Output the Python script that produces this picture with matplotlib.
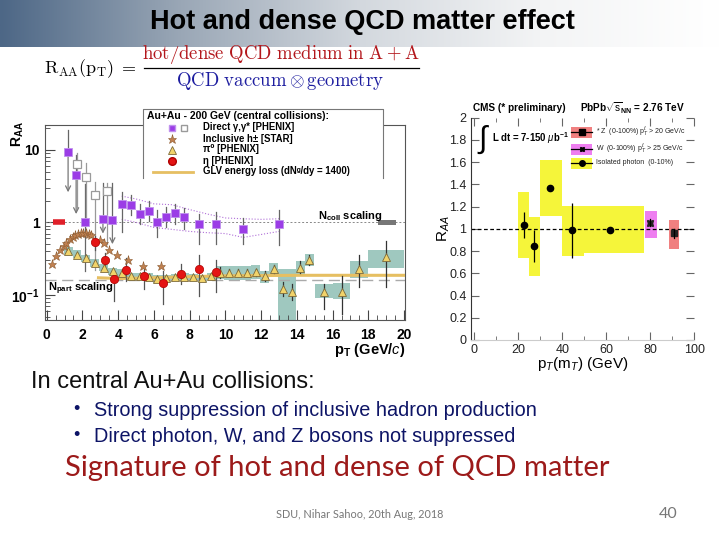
import numpy as np
import matplotlib.pyplot as plt
from matplotlib.patches import Rectangle
from matplotlib.colors import LinearSegmentedColormap

plt.rcParams['font.family'] = ['Liberation Sans', 'DejaVu Sans']
plt.rcParams['mathtext.fontset'] = 'custom'
plt.rcParams['mathtext.rm'] = 'Liberation Sans'
plt.rcParams['mathtext.it'] = 'Liberation Sans:italic'
plt.rcParams['mathtext.bf'] = 'Liberation Sans:bold'

# ---- PHENIX Au+Au 200 GeV (left panel) ----
gam_x = [1.2, 1.65, 2.15, 3.15, 3.68, 4.2, 4.7, 5.2, 5.7, 6.2, 6.7, 7.2, 7.7, 8.5, 9.5, 11.0, 13.0]
gam_y = [9.3, 4.5, 1.0, 1.1, 1.08, 1.78, 1.72, 1.3, 1.44, 1.0, 1.2, 1.35, 1.2, 0.94, 0.95, 0.82, 0.95]
gam_hi = [19, 8.5, 3.4, 3.5, 3.5, 2.6, 2.4, 1.8, 2.0, 1.5, 1.65, 1.8, 1.6, 1.3, 1.4, 1.15, 1.5]
gam_lo = [2.6, 1.3, 0.21, 0.7, 0.5, 0.73, 1.25, 0.95, 1.05, 0.62, 0.85, 0.95, 0.82, 0.5, 0.5, 0.5, 0.48]
gam_arrow = [1, 1, 0, 1, 1, 0, 0, 0, 0, 0, 0, 0, 0, 0, 0, 0, 0]

gam_open_x = [1.72, 2.2, 2.72, 3.4]
gam_open_y = [6.3, 4.2, 2.4, 2.7]
gam_open_hi = [9.0, 6.5, 3.6, 3.5]
gam_open_lo = [1.6, 0.9, 0.22, 0.5]

env_x = [4.2, 5.0, 6.0, 7.0, 8.0, 9.0, 10.0, 11.0, 12.0, 13.0]
env_hi = [2.3, 2.1, 1.8, 1.75, 1.5, 1.3, 1.15, 1.12, 1.1, 1.12]
env_lo = [1.1, 1.0, 0.85, 0.8, 0.75, 0.72, 0.7, 0.62, 0.68, 0.75]

star_x = [0.3, 0.55, 0.75, 0.95, 1.1, 1.3, 1.45, 1.6, 1.75, 1.9, 2.05, 2.2, 2.35,
          2.5, 3.0, 3.2, 3.5, 3.95, 4.55, 5.4, 6.4]
star_y = [0.27, 0.345, 0.41, 0.47, 0.52, 0.58, 0.63, 0.66, 0.69, 0.71, 0.72, 0.71, 0.70,
          0.67, 0.57, 0.52, 0.42, 0.36, 0.30, 0.25, 0.25]

pi0_x = [1.2, 1.7, 2.2, 2.7, 3.2, 3.7, 4.2, 4.7, 5.2, 5.7, 6.2, 6.7, 7.2, 7.7, 8.2, 8.7,
         9.2, 9.7, 10.2, 10.7, 11.2, 11.7, 12.2, 12.7, 13.2, 13.7, 14.2, 14.7, 15.5, 16.5,
         17.5, 19.0]
pi0_y = [0.40, 0.36, 0.32, 0.275, 0.235, 0.21, 0.20, 0.18, 0.18, 0.178, 0.167, 0.17,
         0.175, 0.178, 0.175, 0.17, 0.18, 0.20, 0.20, 0.20, 0.20, 0.204, 0.18, 0.227,
         0.121, 0.109, 0.235, 0.30, 0.108, 0.111, 0.227, 0.33]
pi0_err_lo = [0.38, 0.34, 0.30, 0.26, 0.22, 0.2, 0.19, 0.17, 0.17, 0.168, 0.157, 0.16,
              0.165, 0.167, 0.164, 0.158, 0.165, 0.17, 0.18, 0.18, 0.18, 0.18, 0.155, 0.2,
              0.095, 0.085, 0.2, 0.26, 0.063, 0.054, 0.13, 0.13]
pi0_err_hi = [0.42, 0.38, 0.34, 0.29, 0.25, 0.22, 0.21, 0.19, 0.19, 0.188, 0.177, 0.18,
              0.185, 0.19, 0.187, 0.183, 0.196, 0.24, 0.23, 0.23, 0.225, 0.23, 0.21, 0.26,
              0.15, 0.14, 0.29, 0.36, 0.14, 0.18, 0.36, 0.55]
pi0_sys_lo = [0.35, 0.32, 0.285, 0.245, 0.21, 0.185, 0.178, 0.158, 0.16, 0.158, 0.148, 0.15,
              0.155, 0.158, 0.155, 0.15, 0.16, 0.165, 0.16, 0.16, 0.16, 0.165, 0.145, 0.19,
              0.03, 0.03, 0.19, 0.25, 0.091, 0.087, 0.172, 0.236]
pi0_sys_hi = [0.45, 0.41, 0.36, 0.31, 0.265, 0.235, 0.225, 0.2, 0.2, 0.2, 0.188, 0.19,
              0.196, 0.2, 0.196, 0.19, 0.2, 0.25, 0.25, 0.25, 0.25, 0.255, 0.215, 0.275,
              0.23, 0.23, 0.29, 0.37, 0.139, 0.147, 0.297, 0.42]
pi0_box_w = [0.5] * 28 + [1.0, 1.0, 1.0, 2.0]

eta_x = [2.7, 3.25, 3.75, 4.45, 5.45, 6.5, 7.5, 8.5, 9.5]
eta_y = [0.53, 0.30, 0.165, 0.22, 0.18, 0.145, 0.195, 0.23, 0.205]
eta_lo = [0.42, 0.24, 0.082, 0.155, 0.12, 0.074, 0.14, 0.096, 0.11]
eta_hi = [0.65, 0.38, 0.19, 0.32, 0.25, 0.21, 0.27, 0.36, 0.3]

glv_x = [2.9, 4.0, 5.0, 6.0, 8.0, 10.0, 14.0, 20.0]
glv_y = [0.172, 0.168, 0.17, 0.172, 0.178, 0.183, 0.186, 0.186]

npart_level = 0.158

# ---- CMS PbPb 2.76 TeV (right panel) ----
pho_x = [22.4, 27.3, 34.5, 44.4, 61.8]
pho_y = [1.035, 0.846, 1.37, 0.987, 0.99]
pho_err = [0.12, 0.145, 0.0, 0.245, 0.0]
pho_box_x0 = [20, 25, 30, 40, 50]
pho_box_x1 = [25, 30, 40, 50, 77]
pho_box_lo = [0.74, 0.58, 1.12, 0.76, 0.78]
pho_box_hi = [1.33, 1.11, 1.62, 1.21, 1.21]

w_x, w_y, w_box = 80.0, 1.055, (77.5, 83.0, 0.92, 1.16)
z_x, z_y, z_box = 90.9, 0.96, (88.3, 93.2, 0.82, 1.08)

fig = plt.figure(figsize=(7.2, 5.4), dpi=100)

# slide background, pixel coordinates
bg = fig.add_axes([0, 0, 1, 1], zorder=-5)
grad = np.linspace(0, 1, 256)[None, :]
band = LinearSegmentedColormap.from_list('band', ['#4d6786', '#9aa7b6', '#d3d8de', '#f3f4f5', '#ffffff'])
bg.imshow(grad, cmap=band, aspect='auto', extent=(0, 720, 47, 0))
bg.set_xlim(0, 720)
bg.set_ylim(540, 0)
bg.axis('off')
T = bg.transData

bg.text(362, 22, 'Hot and dense QCD matter effect', ha='center', va='center',
        fontsize=19.5, fontweight='bold', color='black')

# R_AA formula
bg.text(44, 69, r'$\mathrm{R_{AA}(p_T)}\ =$', fontsize=13, va='center', ha='left',
        math_fontfamily='cm')
bg.text(281, 55, r'$\mathrm{hot/dense\ QCD\ medium\ in\ A+A}$', fontsize=13.5,
        ha='center', va='center', color='#b3171c', math_fontfamily='cm')
bg.text(280, 81, r'$\mathrm{QCD\ vaccum}\otimes\mathrm{geometry}$', fontsize=13.5,
        ha='center', va='center', color='#1e1ea0', math_fontfamily='cm')
bg.plot([144, 419], [68, 68], color='black', lw=0.9)

# bottom text
bg.text(31, 382, 'In central Au+Au collisions:', fontsize=17, va='center', color='#111111')
bg.text(73, 410, '\u2022', fontsize=13, va='center', color='#0d1466')
bg.text(94, 410, 'Strong suppression of inclusive hadron production', fontsize=14.3,
        va='center', color='#0d1466')
bg.text(73, 436, '\u2022', fontsize=13, va='center', color='#0d1466')
bg.text(94, 436, 'Direct photon, W, and Z bosons not suppressed', fontsize=14.3,
        va='center', color='#0d1466')
bg.text(65, 468, 'Signature of hot and dense of QCD matter', fontsize=21,
        va='center', color='#9c1a1a', family=['Lato', 'DejaVu Sans'])
bg.text(360, 515, 'SDU, Nihar Sahoo, 20th Aug, 2018', fontsize=7.8, ha='center',
        va='center', color='#777777', family=['Lato', 'DejaVu Sans'])
bg.text(668, 514, '40', fontsize=11.5, ha='center', va='center', color='#777777',
        family=['Lato', 'DejaVu Sans'])

# ================= left panel =================
ax1 = fig.add_axes([44.5 / 720, 1 - 320 / 540, 360.5 / 720, 195 / 540])
ax1.set_yscale('log')
ax1.set_xlim(-0.12, 20.05)
ax1.set_ylim(0.045, 22)

# pi0 systematic boxes
for x, lo, hi, w in zip(pi0_x, pi0_sys_lo, pi0_sys_hi, pi0_box_w):
    ax1.add_patch(Rectangle((x - w / 2, lo), w, hi - lo, facecolor='#9fc8bf',
                            edgecolor='none', zorder=1))

ax1.axhline(1, color='#888888', lw=0.7, ls=(0, (2, 2)), zorder=2)
ax1.axhline(npart_level, color='#aaaaaa', lw=1.0, ls=(0, (8, 4)), zorder=2)
ax1.plot([0.35, 1.05], [1, 1], color='#e0202a', lw=4, solid_capstyle='butt', zorder=3)
ax1.add_patch(Rectangle((18.55, 0.93), 1.0, 0.15, facecolor='#777777', edgecolor='none', zorder=3))
ax1.plot(glv_x, glv_y, color='#e6bf62', lw=2.2, zorder=4)

ax1.plot(env_x, env_hi, color='#b070d8', lw=0.8, ls=':', zorder=2)
ax1.plot(env_x, env_lo, color='#b070d8', lw=0.8, ls=':', zorder=2)

# direct photon error bars / upper limits
for x, y, hi, lo, arr in zip(gam_x, gam_y, gam_hi, gam_lo, gam_arrow):
    ax1.plot([x, x], [y, hi], color='#666666', lw=0.9, zorder=3)
    if arr:
        ax1.annotate('', xy=(x, lo), xytext=(x, y), zorder=3,
                     arrowprops=dict(arrowstyle='->', color='#777777', lw=0.9,
                                     shrinkA=0, shrinkB=0, mutation_scale=9))
    else:
        ax1.plot([x, x], [lo, y], color='#666666', lw=0.9, zorder=3)
for x, y, hi, lo in zip(gam_open_x, gam_open_y, gam_open_hi, gam_open_lo):
    ax1.plot([x, x], [lo, hi], color='#999999', lw=0.9, zorder=3)
ax1.plot(gam_open_x, gam_open_y, 's', ms=5.5, mfc='white', mec='#9a9a9a', mew=0.9, zorder=5)
ax1.plot(gam_x, gam_y, 's', ms=5.5, mfc='#9b3de6', mec='#c090ee', mew=0.6, zorder=6)

# pi0
for x, lo, hi in zip(pi0_x, pi0_err_lo, pi0_err_hi):
    ax1.plot([x, x], [lo, hi], color='#333333', lw=0.9, zorder=4)
ax1.plot(pi0_x, pi0_y, '^', ms=6, mfc='#f1d36a', mec='#7d6a3a', mew=0.6, zorder=6)

# eta
for x, lo, hi in zip(eta_x, eta_lo, eta_hi):
    ax1.plot([x, x], [lo, hi], color='#555555', lw=0.9, zorder=4)
ax1.plot(eta_x, eta_y, 'o', ms=6, mfc='#e41414', mec='#b00000', mew=0.5, zorder=7)

# inclusive hadrons
ax1.plot(star_x, star_y, '*', ms=6.5, mfc='#c08050', mec='#8a5a30', mew=0.4, zorder=6)

ax1.text(15.2, 1.22, r'$\mathbf{N_{coll}}$ scaling', fontsize=8, fontweight='bold',
         va='center', zorder=8)
ax1.text(0.1, 0.12, r'$\mathbf{N_{part}}$ scaling', fontsize=8, fontweight='bold',
         va='center', zorder=8)

ax1.set_xticks(range(0, 21, 2))
ax1.set_xticks(np.arange(0, 20.1, 0.5), minor=True)
ax1.set_yticks([0.1, 1, 10])
ax1.set_yticklabels([r'$\mathbf{10^{-1}}$', '1', '10'])
ax1.tick_params(axis='both', which='both', direction='in', top=False, right=False,
                colors='#444444', labelcolor='black')
ax1.tick_params(axis='both', which='major', length=7, labelsize=10, width=0.8)
ax1.tick_params(axis='both', which='minor', length=3.5, width=0.6)
ax1.tick_params(axis='x', pad=6)
for lab in ax1.get_xticklabels() + ax1.get_yticklabels():
    lab.set_fontweight('bold')
for sp in ax1.spines.values():
    sp.set_color('#555555')
    sp.set_linewidth(0.8)

ax1.text(-0.075, 1.02, r'$\mathbf{R_{AA}}$', transform=ax1.transAxes, rotation=90,
         fontsize=10, ha='center', va='top')
bg.text(405, 350, r'$\mathbf{p_T}$ (GeV/$\mathbf{\mathit{c}}$)', fontsize=10.5,
        fontweight='bold', ha='right', va='center')

# legend box (pixel coordinates)
ax1.add_patch(Rectangle((143, 109), 240, 69, transform=T, facecolor='white',
                        edgecolor='none', clip_on=False, zorder=20))
ax1.plot([143, 143, 383, 383], [178, 109, 109, 178], transform=T, color='#777777',
         lw=0.8, clip_on=False, zorder=21)
ax1.text(147, 116, 'Au+Au - 200 GeV (central collisions):', transform=T, fontsize=7.5,
         fontweight='bold', va='center', zorder=22)
rows = [127.5, 138.5, 149.5, 160.5, 171.5]
labels = ['Direct \u03b3,\u03b3* [PHENIX]', 'Inclusive h\u00b1 [STAR]',
          '\u03c0\u2070 [PHENIX]', '\u03b7 [PHENIX]', 'GLV energy loss (dN\u1d4d/dy = 1400)']
for r, lab in zip(rows, labels):
    ax1.text(203, r, lab, transform=T, fontsize=6.9, fontweight='bold', va='center', zorder=22)
ax1.plot([172], [rows[0]], 's', ms=5, mfc='#9b3de6', mec='#c090ee', transform=T, clip_on=False, zorder=22)
ax1.plot([184], [rows[0]], 's', ms=5, mfc='white', mec='#9a9a9a', transform=T, clip_on=False, zorder=22)
ax1.plot([172], [rows[1]], '*', ms=6.5, mfc='#c08050', mec='#8a5a30', mew=0.4, transform=T, clip_on=False, zorder=22)
ax1.plot([172], [rows[2]], '^', ms=5.5, mfc='#f1d36a', mec='#7d6a3a', mew=0.6, transform=T, clip_on=False, zorder=22)
ax1.plot([172], [rows[3]], 'o', ms=5.5, mfc='#e41414', mec='#b00000', transform=T, clip_on=False, zorder=22)
ax1.plot([153, 193], [rows[4], rows[4]], color='#e6bf62', lw=2, transform=T, clip_on=False, zorder=22)

# ================= right panel =================
ax2 = fig.add_axes([470.7 / 720, 1 - 340 / 540, 223.6 / 720, 222.3 / 540])
ax2.set_xlim(-1.6, 100)
ax2.set_ylim(0, 2)

for x0, x1, lo, hi in zip(pho_box_x0, pho_box_x1, pho_box_lo, pho_box_hi):
    ax2.add_patch(Rectangle((x0, lo), x1 - x0, hi - lo, facecolor='#f5f53a',
                            edgecolor='none', zorder=1))
ax2.add_patch(Rectangle((w_box[0], w_box[2]), w_box[1] - w_box[0], w_box[3] - w_box[2],
                        facecolor='#ee7ef0', edgecolor='none', zorder=1))
ax2.add_patch(Rectangle((z_box[0], z_box[2]), z_box[1] - z_box[0], z_box[3] - z_box[2],
                        facecolor='#f08080', edgecolor='none', zorder=1))
ax2.axhline(1, color='black', lw=0.9, ls=(0, (3, 2)), zorder=2)
ax2.errorbar(pho_x, pho_y, yerr=pho_err, fmt='o', ms=4.5, color='black', lw=0.9,
             capsize=0, zorder=4)
ax2.plot([w_x], [w_y], marker=(4, 1, 45), ms=6, color='#222222', zorder=4)
ax2.plot([w_x, w_x], [w_y - 0.03, w_y + 0.03], color='black', lw=0.9, zorder=4)
ax2.plot([z_x], [z_y], 's', ms=4.5, color='#222222', zorder=4)
ax2.plot([z_x, z_x], [z_y - 0.04, z_y + 0.04], color='black', lw=0.9, zorder=4)

ax2.set_xticks([0, 20, 40, 60, 80, 100])
ax2.set_xticks([10, 30, 50, 70, 90], minor=True)
ax2.set_yticks(np.arange(0, 2.01, 0.2))
ax2.set_yticklabels(['0', '0.2', '0.4', '0.6', '0.8', '1', '1.2', '1.4', '1.6', '1.8', '2'])
ax2.tick_params(axis='both', which='both', direction='in', top=True, right=True,
                colors='#666666', labelcolor='#222222', labelsize=9)
ax2.tick_params(axis='y', which='major', length=6, pad=3)
ax2.tick_params(axis='x', which='major', length=6, pad=3)
ax2.tick_params(axis='x', which='minor', length=3)
for side in ['top', 'right']:
    ax2.spines[side].set_visible(False)
ax2.spines['left'].set_color('#333333')
ax2.spines['bottom'].set_color('#cccccc')
ax2.set_ylabel(r'R$_{AA}$', fontsize=11, labelpad=-2)
ax2.set_xlabel(r'p$_T$(m$_T$) (GeV)', fontsize=11, labelpad=-1)

bg.text(473, 108, 'CMS (* preliminary)', fontsize=7.2, fontweight='bold', va='center')
bg.text(580, 108, r'PbPb$\sqrt{\mathrm{s}}_{\mathbf{NN}}$ = 2.76 TeV', fontsize=7.2,
        fontweight='bold', va='center')
ax2.text(477, 140, r'$\int$', transform=T, fontsize=22, va='center', zorder=12)
ax2.text(492, 138, r'L dt = 7-150 $\mu$b$^{\mathbf{-1}}$', transform=T, fontsize=6.9,
         fontweight='bold', va='center', zorder=12)

leg_rows = [132, 149, 163]
leg_cols = ['#f08080', '#ee7ef0', '#f5f53a']
leg_txt = [r'* Z  (0-100%) p$_T^{\ell}$ > 20 GeV/c', r'W  (0-100%) p$_T^{\ell}$ > 25 GeV/c',
           'Isolated photon  (0-10%)']
leg_mk = ['s', (4, 1, 45), 'o']
for r, c, t, m in zip(leg_rows, leg_cols, leg_txt, leg_mk):
    ax2.add_patch(Rectangle((571, r - 5.5), 21, 11, transform=T, facecolor=c,
                            edgecolor='none', clip_on=False, zorder=10))
    ax2.plot([571, 592], [r, r], color='black', lw=0.9, transform=T, clip_on=False, zorder=11)
    ax2.plot([581.5], [r], marker=m, ms=4, color='black', transform=T, clip_on=False, zorder=12)
    ax2.text(596, r, t, transform=T, fontsize=5, va='center', color='#222222', zorder=12)

fig.savefig('out.png', dpi=100)
